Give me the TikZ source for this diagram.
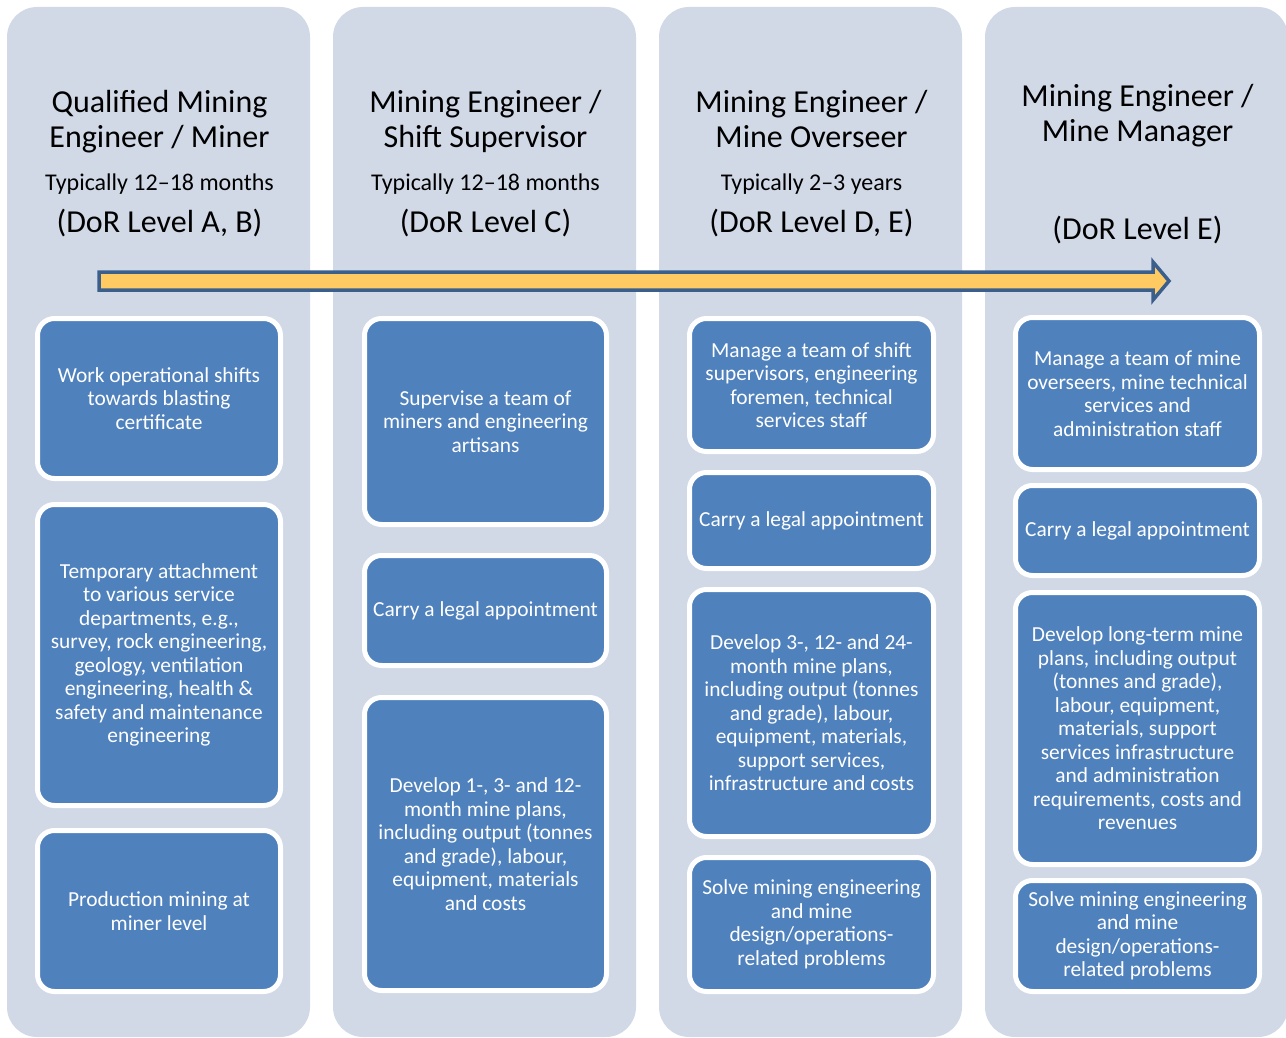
\documentclass[tikz,border=0pt]{standalone}
\usepackage{fontspec}
\setmainfont{Carlito}
\definecolor{colbg}{HTML}{D1D9E7}
\definecolor{taskblue}{HTML}{4F81BD}
\definecolor{arrowfill}{HTML}{FFCA62}
\definecolor{arrowline}{HTML}{3A5F8C}
\tikzset{
  column/.style={fill=colbg, rounded corners=30pt},
  task/.style={draw=white, line width=5pt, fill=taskblue, rounded corners=17pt,
    text=white, align=center, inner sep=0pt,
    font=\fontsize{21.4}{23.5}\selectfont},
  title/.style={anchor=base, align=center, font=\fontsize{32}{35}\selectfont},
  period/.style={anchor=base, font=\fontsize{24}{26}\selectfont},
  level/.style={anchor=base, font=\fontsize{32}{35}\selectfont},
  progress/.style={draw=arrowline, fill=arrowfill, line width=3.5pt, line join=miter},
}
\begin{document}
\begin{tikzpicture}[x=1pt, y=-1pt]
\useasboundingbox (0,0) rectangle (1286,1038);

% background columns
\fill[column] (7,7) rectangle (310,1037);
\fill[column] (333,7) rectangle (636,1037);
\fill[column] (659,7) rectangle (962,1037);
\fill[column] (985,7) rectangle (1288,1037);

% column headings (title anchors sit on the second line's baseline)
\node[title] (t1) at (159.5,148) {Qualified Mining\\Engineer / Miner};
\node[period] (p1) at (159.5,191) {Typically 12–18 months};
\node[level] (l1) at (159.5,233) {(DoR Level A, B)};

\node[title] (t2) at (485.5,148) {Mining Engineer /\\Shift Supervisor};
\node[period] (p2) at (485.5,191) {Typically 12–18 months};
\node[level] (l2) at (485.5,233) {(DoR Level C)};

\node[title] (t3) at (811.5,148) {Mining Engineer /\\Mine Overseer};
\node[period] (p3) at (811.5,191) {Typically 2–3 years};
\node[level] (l3) at (811.5,233) {(DoR Level D, E)};

\node[title] (t4) at (1137.5,142) {Mining Engineer /\\Mine Manager};
\node[level] (l4) at (1137.5,239) {(DoR Level E)};

% career progression arrow
\coordinate (arrowtail) at (99,272);
\coordinate (arrowtip) at (1169,281);
\draw[progress] (arrowtail) -- (1153,272) -- (1153,262) -- (arrowtip)
  -- (1153,300) -- (1153,290) -- (99,290) -- cycle;

% column 1
\node[task, minimum width=243pt, minimum height=160pt] (c1a) at (159,398.5)
  {Work operational shifts\\towards blasting\\certificate};
\node[task, minimum width=243pt, minimum height=301pt] (c1b) at (159,655)
  {Temporary attachment\\to various service\\departments, e.g.,\\survey, rock engineering,\\geology, ventilation\\engineering, health \&\\safety and maintenance\\engineering};
\node[task, minimum width=243pt, minimum height=161pt] (c1c) at (159,911)
  {Production mining at\\miner level};

% column 2
\node[task, minimum width=242pt, minimum height=206pt] (c2a) at (485.5,421.5)
  {Supervise a team of\\miners and engineering\\artisans};
\node[task, minimum width=242pt, minimum height=110pt] (c2b) at (485.5,610.5)
  {Carry a legal appointment};
\node[task, minimum width=242pt, minimum height=293pt] (c2c) at (485.5,844)
  {Develop 1-, 3- and 12-\\month mine plans,\\including output (tonnes\\and grade), labour,\\equipment, materials\\and costs};

% column 3
\node[task, minimum width=244pt, minimum height=133pt] (c3a) at (811.5,385)
  {Manage a team of shift\\supervisors, engineering\\foremen, technical\\services staff};
\node[task, minimum width=244pt, minimum height=96pt] (c3b) at (811.5,520.5)
  {Carry a legal appointment};
\node[task, minimum width=244pt, minimum height=247pt] (c3c) at (811.5,713)
  {Develop 3-, 12- and 24-\\month mine plans,\\including output (tonnes\\and grade), labour,\\equipment, materials,\\support services,\\infrastructure and costs};
\node[task, minimum width=244pt, minimum height=134pt] (c3d) at (811.5,924.5)
  {Solve mining engineering\\and mine\\design/operations-\\related problems};

% column 4
\node[task, minimum width=244pt, minimum height=152pt] (c4a) at (1137.5,393.5)
  {Manage a team of mine\\overseers, mine technical\\services and\\administration staff};
\node[task, minimum width=244pt, minimum height=90pt] (c4b) at (1137.5,530.5)
  {Carry a legal appointment};
\node[task, minimum width=244pt, minimum height=272pt] (c4c) at (1137.5,728.5)
  {Develop long-term mine\\plans, including output\\(tonnes and grade),\\labour, equipment,\\materials, support\\services infrastructure\\and administration\\requirements, costs and\\revenues};
\node[task, minimum width=244pt, minimum height=111pt] (c4d) at (1137.5,936)
  {Solve mining engineering\\and mine\\design/operations-\\related problems};
\end{tikzpicture}
\end{document}
